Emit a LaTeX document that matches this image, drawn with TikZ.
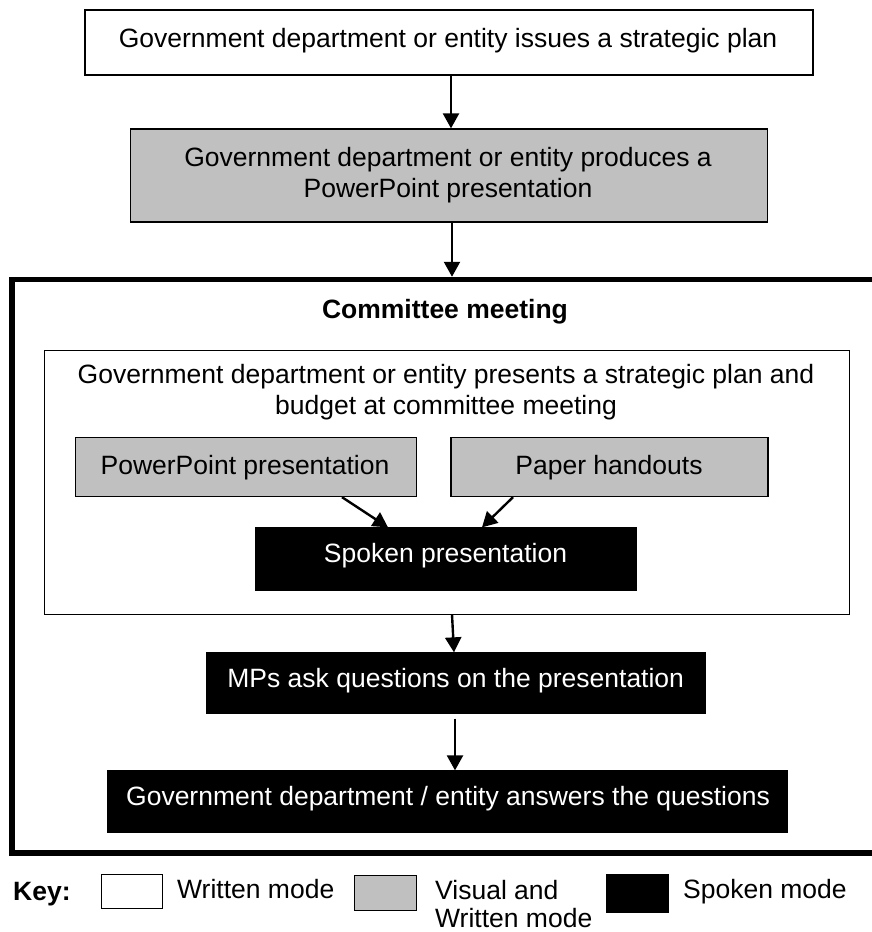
\documentclass[tikz,border=0pt]{standalone}
\usepackage{fontspec}
\setmainfont{Liberation Sans}
\usetikzlibrary{arrows.meta}
\definecolor{boxgray}{HTML}{C0C0C0}
\begin{document}
\begin{tikzpicture}[x=1pt,y=-1pt,
  every node/.style={font=\fontsize{26.5}{31}\selectfont},
  boxshape/.style={draw, line width=1.3pt, inner sep=0pt, anchor=center},
  whitebox/.style={boxshape, fill=white},
  graybox/.style={boxshape, fill=boxgray},
  blackbox/.style={boxshape, fill=black},
  txt/.style={anchor=base, inner sep=0pt},
  ltxt/.style={anchor=base west, inner sep=0pt},
  wtxt/.style={txt, text=white},
  arr/.style={line width=2.4pt, -{Triangle[length=15pt,width=16pt]}}
]
\useasboundingbox (0,0) rectangle (872,932);
\fill[white] (0,0) rectangle (872,932);

% top boxes
\node[whitebox, minimum width=728pt, minimum height=65pt] (b1) at (449,42.5) {};
\node[txt] (t1) at (448,47) {Government department or entity issues a strategic plan};

\node[graybox, minimum width=637pt, minimum height=93pt] (b2) at (449,175.5) {};
\node[txt] (t2a) at (448,166) {Government department or entity produces a};
\node[txt] (t2b) at (448,197) {PowerPoint presentation};

% committee frame
\node[draw, line width=5.5pt, inner sep=0pt, minimum width=880pt, minimum height=573.5pt] (cm) at (452,566.25) {};
\node[txt, font=\fontsize{26.5}{31}\selectfont\bfseries] (cmt) at (445,318) {Committee meeting};

% inner box
\node[whitebox, line width=1pt, minimum width=805pt, minimum height=264pt] (ib) at (447,482) {};
\node[txt] (ta) at (446,383) {Government department or entity presents a strategic plan and};
\node[txt] (tb) at (446,414) {budget at committee meeting};

\node[graybox, minimum width=341pt, minimum height=59pt] (pp) at (246,467) {};
\node[txt] (tpp) at (245,474) {PowerPoint presentation};
\node[graybox, minimum width=317pt, minimum height=59pt] (ph) at (609.5,467) {};
\node[txt] (tph) at (609,474) {Paper handouts};

\node[blackbox, minimum width=380pt, minimum height=62pt] (sp) at (446,559) {};
\node[wtxt] (tsp) at (445.5,562) {Spoken presentation};

\node[blackbox, minimum width=498pt, minimum height=60pt] (mp) at (456,683) {};
\node[wtxt] (tmp) at (455.7,687) {MPs ask questions on the presentation};

\node[blackbox, minimum width=680pt, minimum height=61pt] (an) at (447.5,801.5) {};
\node[wtxt] (tan) at (448,805) {Government department / entity answers the questions};

% arrows
\coordinate (a2) at ([xshift=3pt]b2.south);
\draw[arr] ([xshift=2pt]b1.south) -- ([xshift=2pt]b2.north);
\draw[arr] (a2) -- (a2 |- cm.north);
\draw[arr] ([xshift=96pt]pp.south) -- ([xshift=-58pt]sp.north);
\draw[arr] ([xshift=-96.5pt]ph.south) -- ([xshift=36pt]sp.north);
\draw[arr] ([xshift=5pt]ib.south) -- ([xshift=-2pt]mp.north);
\draw[arr] ([yshift=-5pt,xshift=-1pt]mp.south) -- ([xshift=7.5pt]an.north);

% key
\node[ltxt, font=\fontsize{26.5}{31}\selectfont\bfseries] (key) at (13,900) {Key:};
\node[whitebox, line width=1pt, minimum width=61pt, minimum height=34pt] (k1) at (131.5,891.5) {};
\node[ltxt] (k1t) at (177,898) {Written mode};
\node[graybox, line width=1pt, minimum width=62pt, minimum height=35pt] (k2) at (385,892.5) {};
\node[ltxt] (k2a) at (435,899) {Visual and};
\node[ltxt] (k2b) at (435,927) {Written mode};
\node[blackbox, line width=1pt, minimum width=62pt, minimum height=38pt] (k3) at (637,893) {};
\node[ltxt] (k3t) at (683,898) {Spoken mode};
\end{tikzpicture}
\end{document}
